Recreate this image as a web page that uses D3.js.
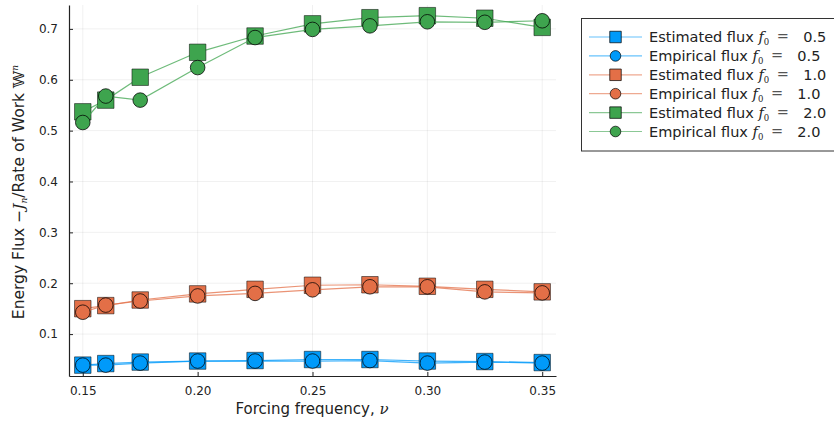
<!DOCTYPE html>
<html><head><meta charset="utf-8">
<script src="https://cdn.jsdelivr.net/npm/d3@7"></script>
<style>body{margin:0;background:#fff;}svg{display:block;font-family:"DejaVu Sans",sans-serif;}</style>
</head><body><svg id="c" width="834" height="422"></svg>
<script>
const nu = [0.15, 0.16, 0.175, 0.2, 0.225, 0.25, 0.275, 0.3, 0.325, 0.35];
const est05 = [0.039, 0.042, 0.045, 0.047, 0.048, 0.050, 0.050, 0.047, 0.046, 0.044];
const emp05 = [0.039, 0.039, 0.043, 0.047, 0.047, 0.047, 0.048, 0.043, 0.045, 0.043];
const est10 = [0.150, 0.156, 0.167, 0.179, 0.188, 0.196, 0.197, 0.194, 0.188, 0.183];
const emp10 = [0.143, 0.157, 0.165, 0.175, 0.180, 0.187, 0.193, 0.193, 0.183, 0.181];
const est20 = [0.537, 0.560, 0.605, 0.654, 0.686, 0.710, 0.722, 0.726, 0.721, 0.703];
const emp20 = [0.516, 0.568, 0.560, 0.624, 0.683, 0.699, 0.706, 0.714, 0.713, 0.716];
const xTicks = [0.15, 0.20, 0.25, 0.30, 0.35];
const yTicks = [0.1, 0.2, 0.3, 0.4, 0.5, 0.6, 0.7];

const series = [
  {name:"Estimated flux", f:"0.5", vals:est05, color:"#009AFA", shape:"square"},
  {name:"Empirical flux", f:"0.5", vals:emp05, color:"#009AFA", shape:"circle"},
  {name:"Estimated flux", f:"1.0", vals:est10, color:"#E36F47", shape:"square"},
  {name:"Empirical flux", f:"1.0", vals:emp10, color:"#E36F47", shape:"circle"},
  {name:"Estimated flux", f:"2.0", vals:est20, color:"#3EA44E", shape:"square"},
  {name:"Empirical flux", f:"2.0", vals:emp20, color:"#3EA44E", shape:"circle"}
];

const svg = d3.select("#c");
const L=69, R=556, T=5, B=376;
const x = d3.scaleLinear().domain([0.1440, 0.3560]).range([L, R]);
const y = d3.scaleLinear().domain([0.0176, 0.747]).range([B, T]);

// grid
const g = svg.append("g");
g.selectAll(".gx").data(xTicks).join("line")
  .attr("x1", d=>x(d)).attr("x2", d=>x(d)).attr("y1", T).attr("y2", B)
  .attr("stroke", "#000").attr("stroke-opacity", 0.1).attr("stroke-width", 0.6);
g.selectAll(".gy").data(yTicks).join("line")
  .attr("x1", L).attr("x2", R).attr("y1", d=>y(d)).attr("y2", d=>y(d))
  .attr("stroke", "#000").attr("stroke-opacity", 0.1).attr("stroke-width", 0.6);

// axes
const xa = svg.append("g").attr("transform", `translate(0,${B})`)
  .call(d3.axisBottom(x).tickValues(xTicks).tickFormat(d3.format(".2f")).tickSizeInner(-4).tickSizeOuter(0).tickPadding(10));
const ya = svg.append("g").attr("transform", `translate(${L},0)`)
  .call(d3.axisLeft(y).tickValues(yTicks).tickFormat(d3.format(".1f")).tickSizeInner(-4).tickSizeOuter(0).tickPadding(11));
[xa, ya].forEach(a=>{
  a.select(".domain").attr("stroke", "#222").attr("stroke-width", 1.2);
  a.selectAll(".tick line").attr("stroke", "#222").attr("stroke-width", 1);
  a.selectAll(".tick text").attr("font-family", "DejaVu Sans").attr("font-size", 12).attr("fill", "#222");
});

// series
const line = d3.line().x((d,i)=>x(nu[i])).y(d=>y(d));
const sym = {square: d3.symbol().type(d3.symbolSquare).size(16.5*16.5), circle: d3.symbol().type(d3.symbolCircle).size(Math.PI*7.3*7.3)};
series.forEach(s=>{
  const sg = svg.append("g");
  sg.append("path").attr("d", line(s.vals)).attr("fill", "none")
    .attr("stroke", s.color).attr("stroke-width", 1.2).attr("stroke-opacity", 0.75);
  sg.selectAll("path.m").data(s.vals).join("path").attr("class","m")
    .attr("d", sym[s.shape]).attr("transform", (d,i)=>`translate(${x(nu[i])},${y(d)})`)
    .attr("fill", s.color).attr("stroke", "#000").attr("stroke-opacity", s.shape==="square"?0.5:0.75).attr("stroke-width", 1);
});

// axis labels
svg.append("text").attr("x", 312).attr("y", 414).attr("text-anchor","middle")
  .attr("font-size", 15).attr("fill","#222")
  .html('Forcing frequency, <tspan font-family="DejaVu Serif" font-style="italic">ν</tspan>');
const yl = svg.append("text").attr("transform", `translate(24,192) rotate(-90)`)
  .attr("text-anchor","middle").attr("font-size", 15.5).attr("fill","#222");
yl.append("tspan").text("Energy Flux −");
yl.append("tspan").attr("font-family","DejaVu Serif").attr("font-style","italic").text("J");
yl.append("tspan").attr("font-family","DejaVu Serif").attr("font-style","italic").attr("font-size",9).attr("dy",3).text("n");
yl.append("tspan").attr("dy",-3).text("/Rate of Work ");
yl.append("tspan").attr("font-family","DejaVu Serif").text("𝕎");
yl.append("tspan").attr("font-family","DejaVu Serif").attr("font-style","italic").attr("font-size",9).attr("dy",-6).text("n");

// legend
const lg = svg.append("g");
lg.append("rect").attr("x", 581.5).attr("y", 18.5).attr("width", 270).attr("height", 132.5)
  .attr("fill","#fff").attr("stroke","#333").attr("stroke-width",1);
series.forEach((s,i)=>{
  const cy = 37 + i*18.9;
  lg.append("line").attr("x1",589).attr("x2",642).attr("y1",cy).attr("y2",cy)
    .attr("stroke", s.color).attr("stroke-width",1.2).attr("stroke-opacity",0.6);
  const m = s.shape==="square" ? d3.symbol().type(d3.symbolSquare).size(11.5*11.5) : d3.symbol().type(d3.symbolCircle).size(Math.PI*5.3*5.3);
  lg.append("path").attr("d", m).attr("transform",`translate(615.5,${cy})`)
    .attr("fill", s.color).attr("stroke","#000").attr("stroke-opacity",0.7).attr("stroke-width",1);
  const t = lg.append("text").attr("x",649).attr("y",cy+5).attr("font-size",14.5).attr("fill","#222");
  t.append("tspan").text(s.name + "\u00a0");
  t.append("tspan").attr("font-family","DejaVu Serif").attr("font-style","italic").text("f");
  t.append("tspan").attr("font-family","DejaVu Serif").attr("font-size",8.5).attr("dy",3).text("0");
  t.append("tspan").attr("dy",-4).attr("dx",3).attr("font-family","DejaVu Serif").attr("fill","#555").text("\u00a0=");
  t.append("tspan").attr("dy",1).attr("dx",5).text("\u00a0\u00a0" + s.f);
});
</script></body></html>
